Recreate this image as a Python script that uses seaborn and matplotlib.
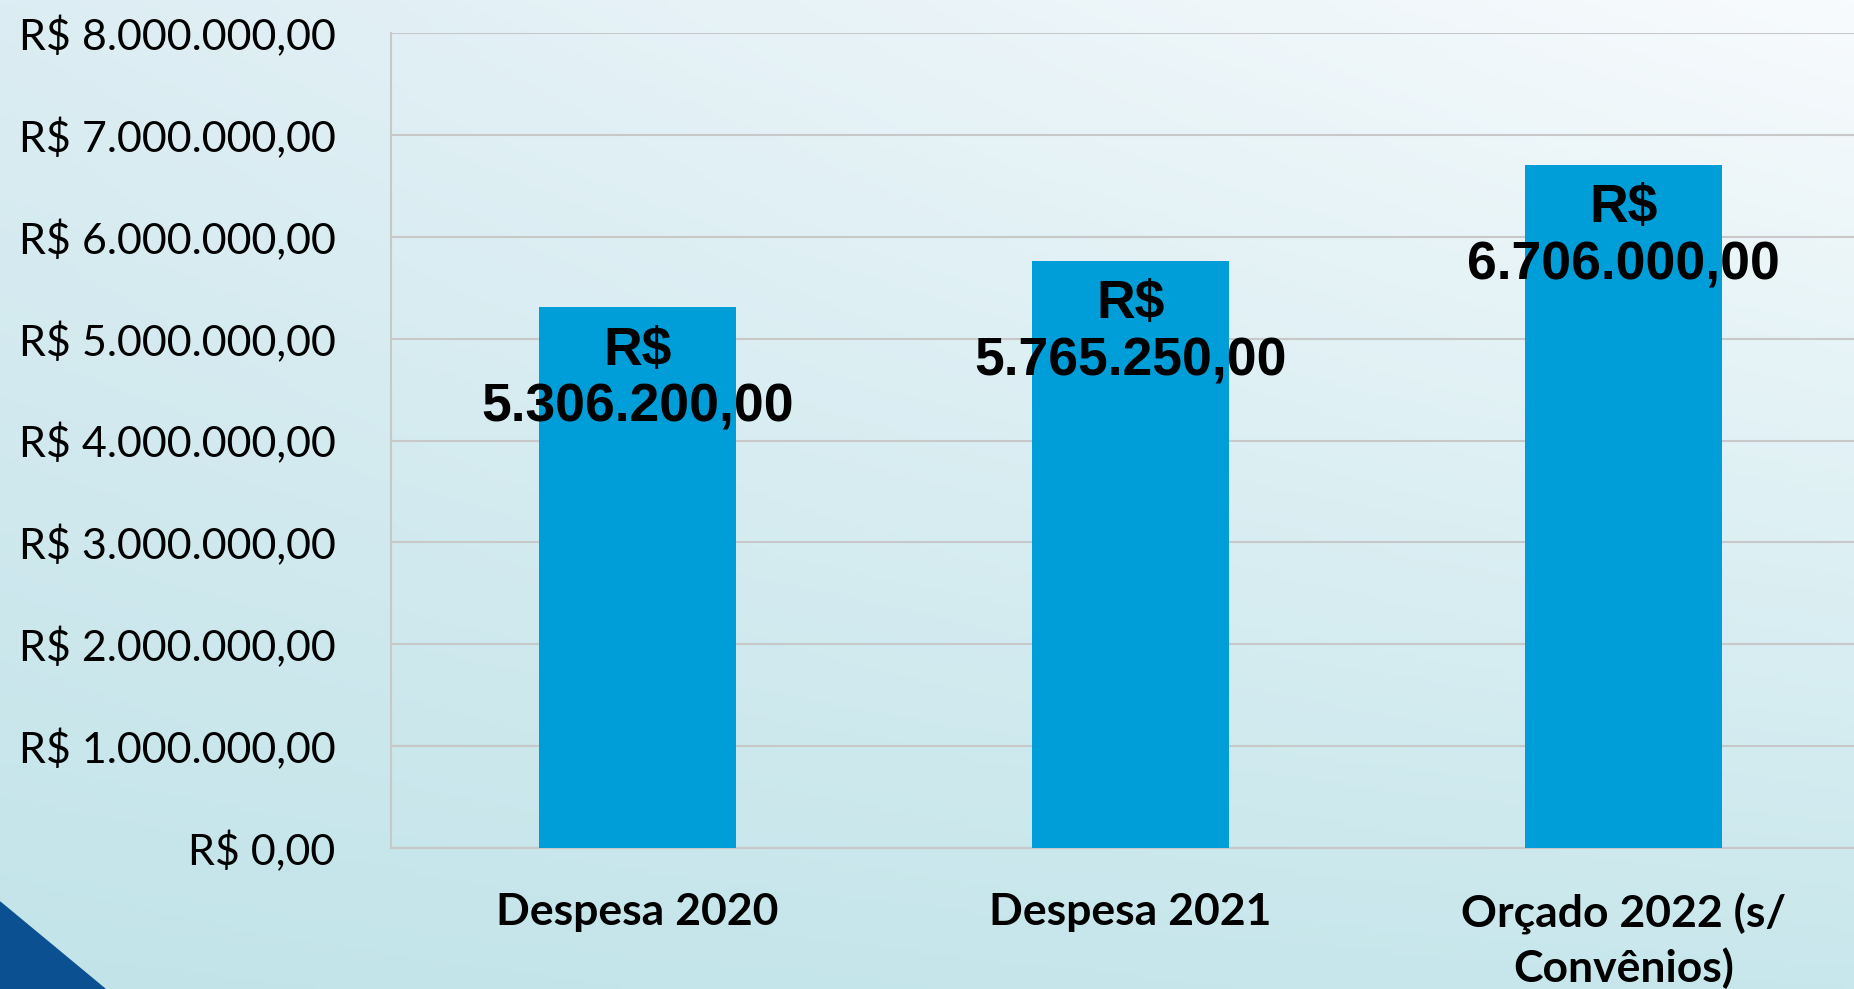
import matplotlib
matplotlib.use("Agg")
import matplotlib.pyplot as plt
import numpy as np
import pandas as pd
import seaborn as sns
from matplotlib.colors import to_rgb
from matplotlib.patches import Polygon
from matplotlib.ticker import FuncFormatter, MultipleLocator

categorias = ["Despesa 2020", "Despesa 2021", "Orçado 2022 (s/\nConvênios)"]
valores = [5306200.00, 5765250.00, 6706000.00]

df = pd.DataFrame({"categoria": categorias, "valor": valores})


def brl(v, pos=None):
    s = f"{v:,.2f}"
    return "R$ " + s.replace(",", "X").replace(".", ",").replace("X", ".")


sns.set_style("white")
plt.rcParams["font.family"] = ["Lato", "DejaVu Sans"]
plt.rcParams["text.color"] = "black"

fig = plt.figure(figsize=(18.54, 9.89), dpi=100)

# background gradient
bg = fig.add_axes([0, 0, 1, 1])
bg.set_axis_off()
tl, tr = np.array(to_rgb("#dcedf3")), np.array(to_rgb("#f8fbfd"))
bl, br = np.array(to_rgb("#c2e4e9")), np.array(to_rgb("#c8e7ec"))
ny, nx = 200, 200
yy, xx = np.mgrid[0:1:ny * 1j, 0:1:nx * 1j]
img = (tl * ((1 - xx) * (1 - yy))[..., None] + tr * (xx * (1 - yy))[..., None]
       + bl * ((1 - xx) * yy)[..., None] + br * (xx * yy)[..., None])
bg.imshow(img, extent=[0, 1, 0, 1], aspect="auto", origin="upper")
bg.add_patch(Polygon([[0, 0], [0, 87 / 989], [105 / 1854, 0]], closed=True,
                     color="#0b5091", transform=bg.transAxes))
bg.set_xlim(0, 1)
bg.set_ylim(0, 1)

ax = fig.add_axes([391 / 1854, 141 / 989, 1479 / 1854, 815 / 989])
ax.patch.set_alpha(0)
sns.barplot(data=df, x="categoria", y="valor", color="#009ed8", width=0.4,
            saturation=1, linewidth=0, ax=ax, zorder=3)

ax.set_ylim(0, 8000000)
ax.set_xlim(-0.5, 2.5)
ax.yaxis.set_major_locator(MultipleLocator(1000000))
ax.yaxis.set_major_formatter(FuncFormatter(brl))
ax.grid(axis="y", color="#c8c8c8", linewidth=1.5, zorder=0)
ax.set_axisbelow(True)
ax.set_xlabel("")
ax.set_ylabel("")

for s in ["top", "right"]:
    ax.spines[s].set_visible(False)
for s in ["left", "bottom"]:
    ax.spines[s].set_color("#c8c8c8")
    ax.spines[s].set_linewidth(1.5)

ax.set_xticks([-0.5, 0.5, 1.5, 2.5], minor=True)
ax.tick_params(axis="x", which="major", length=0, pad=32, labelsize=32, labelcolor="black")
ax.tick_params(axis="x", which="minor", length=11, width=1.5, color="#c8c8c8", direction="out")
ax.tick_params(axis="y", length=11, width=1.5, color="#c8c8c8", direction="out",
               pad=29, labelsize=31, labelcolor="black")
for lab in ax.get_xticklabels():
    lab.set_fontweight("bold")
    lab.set_linespacing(1.38)
    lab.set_verticalalignment("top")

for i, v in enumerate(valores):
    txt = "R$\n" + brl(v)[3:]
    ax.annotate(txt, (i, v), xytext=(0, -72), textcoords="offset pixels",
                ha="center", va="center", fontsize=38.5, fontweight="bold",
                family="Liberation Sans", color="black", linespacing=1.18, zorder=5)

fig.savefig("out.png", dpi=100)
